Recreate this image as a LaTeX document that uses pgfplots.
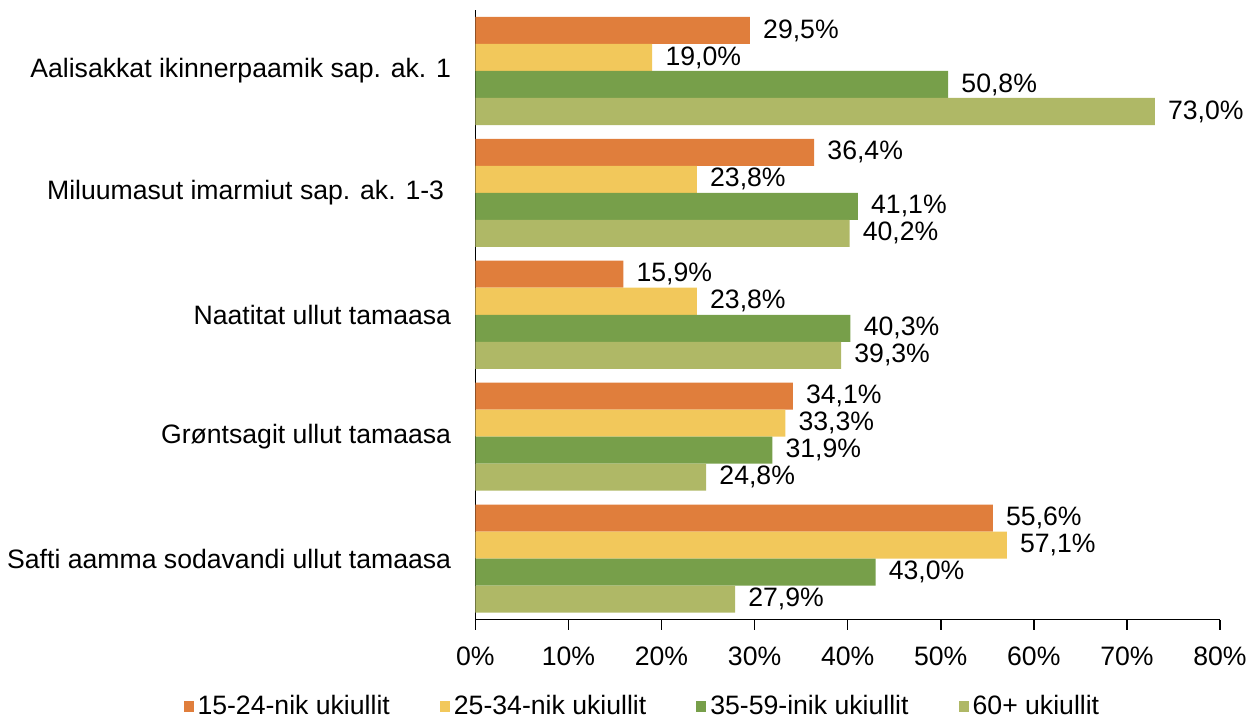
\documentclass[border=0pt]{standalone}
\usepackage{pgfplots}
\pgfplotsset{compat=1.18}
\usepackage{fontspec}
\setmainfont{Liberation Sans}
\definecolor{cA}{HTML}{E07E3C}
\definecolor{cB}{HTML}{F2C85B}
\definecolor{cC}{HTML}{779F4A}
\definecolor{cD}{HTML}{AFB866}
\newcommand\fs{\fontsize{13.3}{16}\selectfont}
\begin{document}
\fs
\begin{tikzpicture}
\begin{axis}[
  name=ax,
  scale only axis,
  width=372pt, height=304.5pt,
  xbar, bar width=13.5pt,
  xmin=0, xmax=80, ymin=-0.5, ymax=4.5,
  axis lines*=left,
  axis line style={black, line width=0.8pt},
  xtick={0,10,...,80},
  xticklabel={\pgfmathprintnumber{\tick}\%},
  xtick style={black, line width=0.8pt},
  tick align=outside,
  major tick length=5pt,
  ytick={0,1,2,3,4},
  yticklabels={Safti aamma sodavandi ullut tamaasa, Grøntsagit ullut tamaasa, Naatitat ullut tamaasa, Miluumasut imarmiut sap. ak. 1-3\kern3.5pt, Aalisakkat ikinnerpaamik sap. ak. 1},
  ytick style={draw=none},
  yticklabel style={xshift=-2.5pt},
  xticklabel style={yshift=-4pt},
  /pgf/number format/assume math mode=true,
  tick label style={font=\fs},
  nodes near coords={\pgfmathprintnumber[fixed,fixed zerofill,precision=1,use comma,assume math mode=true]{\pgfplotspointmeta}\%},
  nodes near coords style={font=\fs, anchor=west, xshift=2pt, black},
  legend style={at={(rel axis cs:0.2256,-0.143)}, anchor=center, draw=none, legend columns=4,
    font=\fs, /tikz/every even column/.append style={column sep=23pt}},
  legend image code/.code={\fill[#1] (0pt,-2.6pt) rectangle (5pt,2.6pt);},
  clip=false,
]
\addplot[fill=cA, draw=none, bar shift=20.25pt] coordinates {(55.6,0) (34.1,1) (15.9,2) (36.4,3) (29.5,4)};
\addplot[fill=cB, draw=none, bar shift=6.75pt] coordinates {(57.1,0) (33.3,1) (23.8,2) (23.8,3) (19.0,4)};
\addplot[fill=cC, draw=none, bar shift=-6.75pt] coordinates {(43.0,0) (31.9,1) (40.3,2) (41.1,3) (50.8,4)};
\addplot[fill=cD, draw=none, bar shift=-20.25pt] coordinates {(27.9,0) (24.8,1) (39.3,2) (40.2,3) (73.0,4)};
\legend{15-24-nik ukiullit, 25-34-nik ukiullit, 35-59-inik ukiullit, 60+ ukiullit}
\end{axis}
\pgfresetboundingbox
\path ([xshift=-237.5pt,yshift=-49pt]ax.south west) rectangle ([xshift=17.5pt,yshift=5pt]ax.north east);
\end{tikzpicture}
\end{document}
